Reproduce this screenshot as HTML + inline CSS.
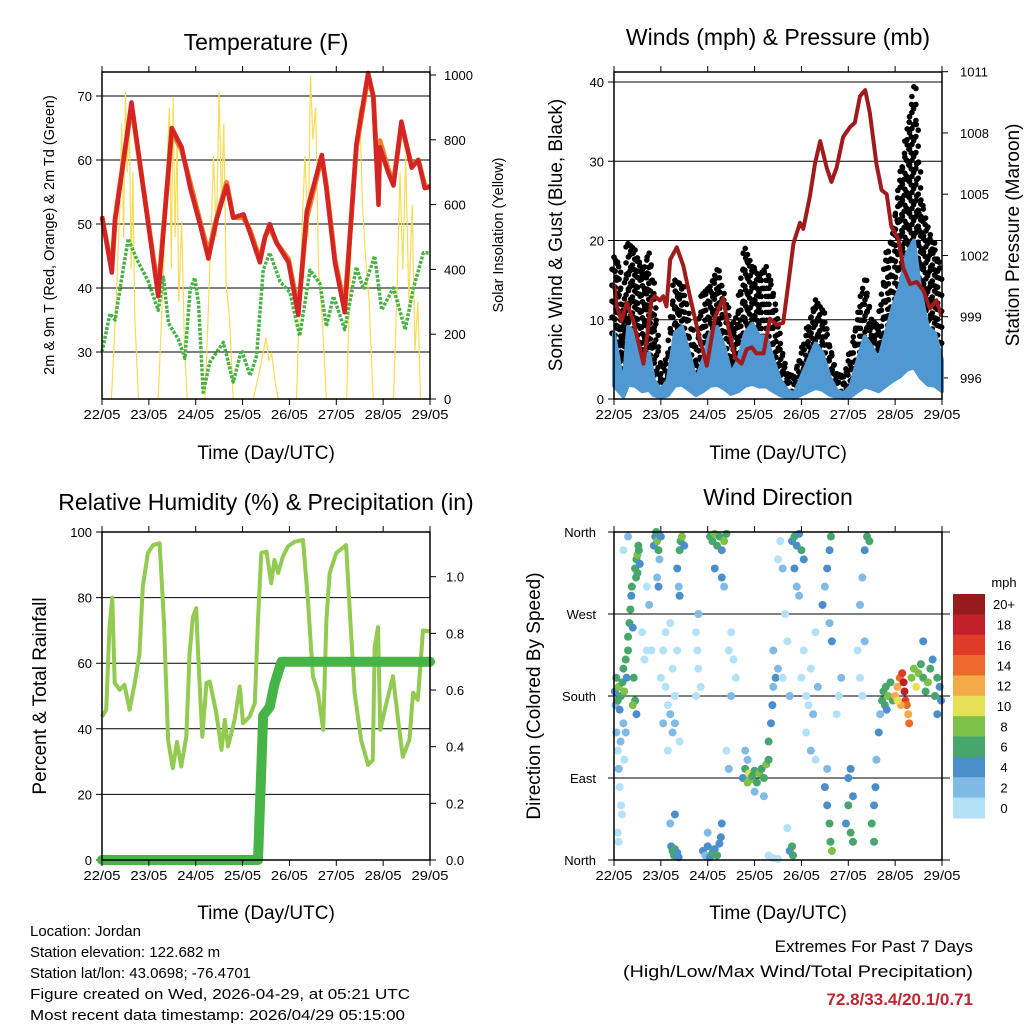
<!DOCTYPE html>
<html><head><meta charset="utf-8"><title>Weather station charts</title>
<style>
html,body{margin:0;padding:0;background:#fff;}
svg{display:block;font-family:"Liberation Sans",Arial,sans-serif;}
</style></head>
<body>
<svg id="fig" width="1024" height="1024" viewBox="0 0 1024 1024" xmlns="http://www.w3.org/2000/svg">
<rect width="1024" height="1024" fill="#fff"/>
</svg>
<script>
// ---------------- DATA ----------------
const dayLabels = ["22/05","23/05","24/05","25/05","26/05","27/05","28/05","29/05"];
// Temperature panel
const tempTickVals = [30,40,50,60,70];
const solarTickVals = [0,200,400,600,800,1000];
const t2T = [0,0.21,0.28,0.31,0.63,1.2,1.49,1.7,1.88,2.09,2.27,2.45,2.66,2.8,3.02,3.16,3.37,3.48,3.58,3.73,3.98,4.19,4.37,4.69,4.79,4.97,5.18,5.43,5.68,5.79,5.9,5.93,6.11,6.22,6.39,6.61,6.75,6.89,7];
const t2V = [51.2,42.4,51,52,69,38.7,65,62,55.7,50,44.6,50.8,56,51,51.5,48.6,44,48,50,47,44,35.8,52,60.8,55.5,44,36.2,62.5,73.6,70,53,62,58,56,66,58.8,60,55.6,55.8];
const t9V = [51,43,50.5,52.5,68.5,39.5,64.5,61.5,56.5,50.5,45.5,51,56.5,51,51,49,44.5,48,49.5,47,44.5,36.5,51,60.5,56,44.5,37,62,73,70,55,63,58.5,56.5,65.5,59,60,56,55.8];
const tdT = [0,0.17,0.28,0.42,0.56,0.74,0.99,1.2,1.31,1.42,1.63,1.77,1.88,1.98,2.06,2.16,2.3,2.59,2.8,2.98,3.16,3.3,3.44,3.58,3.8,4.01,4.22,4.44,4.65,4.79,4.94,5.18,5.43,5.58,5.82,5.97,6.22,6.47,6.64,6.86,7];
const tdV = [30,36,35,41.5,47.7,44.5,41,36.5,41.7,34.5,32,29,39.7,41.6,37.6,23.7,28.4,31.5,25.3,30.3,26.3,29.4,42.8,45.5,41,39.3,32.5,42.8,40.7,34,38.7,33.5,43.3,39.8,45,36.6,40,33.5,39.8,45.5,45.5];
const solarT = [0.2,0.3,0.38,0.42,0.46,0.5,0.54,0.58,0.62,0.66,0.7,0.78, 1.2,1.3,1.38,1.44,1.48,1.52,1.56,1.6,1.64,1.7,1.76,1.82, 2.2,2.3,2.38,2.44,2.5,2.55,2.6,2.65,2.72,2.8, 3.23,3.35,3.42,3.5,3.56,3.62,3.7,3.76, 4.15,4.25,4.33,4.4,4.45,4.5,4.56,4.62,4.7,4.79, 5.22,5.3,5.38,5.45,5.5,5.56,5.62,5.7,5.79, 6.22,6.3,6.36,6.42,6.48,6.55,6.62,6.68,6.74,6.8];
const solarV = [0,300,600,850,500,950,700,900,400,700,250,0, 0,350,700,900,400,930,500,800,300,550,150,0, 0,400,750,500,950,600,850,350,250,0, 0,80,130,190,120,140,50,0, 0,450,750,500,1000,800,900,400,250,0, 0,400,750,850,900,600,450,300,0, 0,350,700,400,750,300,600,150,300,0];
// Wind panel
const windTickVals = [0,10,20,30,40];
const presTickVals = [996,999,1002,1005,1008,1011];
const windT = [0,.1,.2,.3,.45,.6,.75,.85,1.0,1.15,1.3,1.45,1.6,1.75,1.9,2.05,2.2,2.35,2.5,2.65,2.8,2.95,3.1,3.25,3.4,3.55,3.7,3.85,4.0,4.15,4.3,4.45,4.6,4.75,4.9,5.05,5.2,5.35,5.5,5.65,5.8,5.95,6.1,6.25,6.4,6.55,6.7,6.85,7.0];
const windV = [8.3,4.9,1.6,9.1,8.3,4.9,5.8,2.4,1.1,2.4,8.3,9.1,5.8,2.4,4.9,8.3,9.1,6.6,3.2,4.9,8.3,9.5,7.9,7.9,4.9,2.4,1.1,0.7,2.8,4.9,7.0,5.8,2.8,1.1,0.7,1.6,4.9,7.9,6.6,4.9,8.3,11.6,14.2,18.4,20,13.3,9.1,8.3,4.9];
const gustV = [17.9,16.7,8,19.6,18.8,15.8,18.4,13.3,3.2,5.8,15,14.2,10.8,4.9,13.3,14.2,16.3,13.3,9.1,10.8,19,16.7,15.4,16.7,13.3,7,3.2,2.8,5.8,9.1,12.5,11.2,6.6,3.2,2.8,5.8,10,15,10,9.1,17.5,20.9,27.6,32.7,39.4,25.1,21.7,18.8,15.4];
const presT = [0,0.06,0.16,0.27,0.41,0.63,0.8,0.87,0.98,1.05,1.12,1.2,1.34,1.48,1.62,1.8,1.98,2.16,2.33,2.44,2.58,2.72,2.83,2.94,3.04,3.19,3.33,3.47,3.61,3.72,3.83,3.97,4.04,4.18,4.29,4.4,4.54,4.64,4.75,4.89,5.04,5.14,5.25,5.36,5.46,5.6,5.71,5.82,5.92,6.07,6.17,6.32,6.46,6.6,6.74,6.88,6.99];
const presV = [1000.6,999.5,998.8,999.7,998.8,996.7,999.8,1000,999.8,1000,999.5,1001.8,1002.4,1001.5,1000,998.2,996.6,999,999.9,998.5,997,996.7,997.4,997.5,997.2,997.2,998.9,998.6,998.7,1000.6,1002.6,1003.6,1003.3,1004.9,1006.5,1007.6,1006.3,1005.6,1006.3,1007.8,1008.3,1008.5,1009.8,1010.1,1009,1006.5,1005.2,1005,1003.4,1002.8,1001.4,1000.6,1000.7,1000.3,999.4,999.8,999];
// Humidity panel
const rhTickVals = [0,20,40,60,80,100];
const precipTickVals = [0,0.2,0.4,0.6,0.8,1.0];
const rhT = [0,.09,.16,.22,.27,.38,.48,.59,.7,.8,.87,.98,1.09,1.23,1.32,1.41,1.51,1.6,1.69,1.8,1.87,1.94,2.01,2.05,2.14,2.23,2.3,2.44,2.55,2.62,2.69,2.83,2.94,3.01,3.15,3.26,3.33,3.4,3.51,3.61,3.68,3.76,3.86,3.97,4.11,4.29,4.4,4.5,4.61,4.72,4.79,4.86,5.0,5.21,5.28,5.39,5.53,5.68,5.78,5.82,5.89,5.94,6.07,6.21,6.32,6.42,6.56,6.64,6.74,6.85,6.99];
const rhV = [43.7,45.8,71,80,54,51.9,53.4,45.8,54,63,83.4,93.6,96,96.6,73,36.6,28,36,28.5,37.6,63,74,76.8,63,37.6,54,54.4,44.8,33.6,42.7,34.6,42.7,52.9,41.7,43.7,47.8,73.2,93.6,94,84.4,91.5,87.5,92.6,95.6,97,97.6,78,56,50.9,39.7,73.2,87.5,93.6,96,78,51,36.6,29,30.5,65,71,39.7,47.8,56,42.7,31.5,36.6,51,48.8,70,69.7];
const precipT = [0,3.33,3.44,3.58,3.68,3.83,7];
const precipV = [0,0,0.51,0.54,0.62,0.7,0.7];
// Wind direction panel (cluster arrays: [day, degrees, mph])
const dirLabels = ["North","East","South","West","North"];
const speedBins = ["0","2","4","6","8","10","12","14","16","18","20+"];
const speedColors = ["#b3e2f7","#7fbbe5","#4a8fca","#47a66b","#7dc04a","#e5e154","#f5aa48","#ee6a2c","#df3b2a","#c0202a","#971a1c"];
const dirDay1 = [[0.02,185,4],[0.03,170,3],[0.05,200,6],[0.08,175,7],[0.1,190,8],[0.12,165,5],[0.15,180,6],[0.18,195,7],[0.2,210,7],[0.22,185,8],[0.25,220,6],[0.27,200,5],[0.3,230,7],[0.05,140,2],[0.08,120,1],[0.1,100,2],[0.12,80,1],[0.14,130,2],[0.15,60,1],[0.17,50,0],[0.2,150,2],[0.22,110,1],[0.25,140,2],[0.08,30,1],[0.1,20,0],[0.3,245,7],[0.33,260,6],[0.35,275,6],[0.37,290,5],[0.38,300,7],[0.4,255,4],[0.42,200,6],[0.45,175,6],[0.48,160,5],[0.4,170,8],[0.45,320,6],[0.48,330,7],[0.5,335,8],[0.52,345,6],[0.5,315,6],[0.55,325,5],[0.47,310,6],[0.53,340,7],[0.3,355,2],[0.2,340,1],[0.85,345,4],[0.88,355,5],[0.9,360,7],[0.92,350,8],[0.95,340,6],[0.97,330,3],[1.0,355,5],[0.95,300,4],[0.92,310,3],[0.7,300,1],[0.75,280,2],[0.6,250,1],[0.65,220,0],[0.7,230,1],[0.8,230,0]];
const dirDay2 = [[1.0,200,1],[1.05,230,1],[1.1,190,0],[1.15,170,1],[1.2,160,2],[1.25,210,1],[1.3,180,0],[1.1,250,1],[1.2,260,1],[1.3,150,2],[1.35,230,0],[1.4,130,1],[1.05,150,2],[1.15,120,1],[1.25,140,2],[1.22,15,4],[1.25,10,7],[1.28,5,6],[1.3,12,6],[1.35,8,4],[1.38,3,5],[1.2,40,3],[1.3,50,4],[1.35,320,4],[1.4,340,6],[1.42,350,7],[1.45,355,8],[1.5,345,5],[1.38,300,3],[1.4,290,4],[1.75,250,1],[1.78,230,0],[1.8,210,1],[1.85,190,0],[1.8,270,2],[1.75,180,1]];
const dirDay3 = [[1.9,10,4],[1.95,5,3],[2.0,15,4],[2.05,3,5],[2.1,8,6],[2.15,12,4],[2.2,5,7],[2.25,18,5],[2.0,30,3],[2.3,40,4],[2.28,25,5],[2.05,355,6],[2.1,350,7],[2.15,358,8],[2.2,345,6],[2.25,355,7],[2.3,340,5],[2.35,350,8],[2.4,358,6],[2.15,320,5],[2.3,310,4],[2.35,300,3],[2.5,250,1],[2.55,220,0],[2.6,200,1],[2.5,180,2],[2.45,230,0],[2.4,120,1],[2.45,100,2]];
const dirDay4 = [[2.75,90,5],[2.8,100,6],[2.85,85,8],[2.88,95,10],[2.9,88,9],[2.95,92,7],[3.0,98,6],[3.05,85,7],[3.1,95,8],[3.15,100,6],[3.2,90,7],[3.25,105,8],[3.3,110,6],[2.8,120,3],[2.85,110,2],[3.0,75,2],[3.2,70,2],[3.3,130,7],[3.35,150,4],[3.38,170,4],[3.4,190,3],[3.45,200,5],[3.5,210,3],[3.4,230,2],[3.5,330,0],[3.55,350,1],[3.6,320,2],[3.65,270,1],[3.7,240,0],[3.6,200,1],[3.75,180,2],[3.3,5,1],[3.4,2,0],[3.5,1,1]];
const dirDay5 = [[3.75,10,4],[3.8,15,6],[3.82,5,7],[3.7,35,1],[3.8,350,4],[3.85,355,6],[3.9,345,5],[3.95,358,4],[4.0,340,6],[3.85,320,4],[3.9,300,3],[3.95,290,2],[4.05,330,4],[4.0,200,1],[4.05,230,0],[4.1,180,1],[4.15,170,0],[4.2,210,1],[4.25,160,2],[4.3,250,1],[4.1,140,1],[4.2,120,2],[4.3,110,0],[4.35,190,2],[4.45,280,4],[4.5,300,3],[4.55,320,4],[4.6,340,5],[4.63,355,7],[4.6,260,3],[4.65,240,4],[4.5,80,4],[4.55,60,5],[4.6,40,6],[4.62,20,7],[4.65,10,8],[4.55,100,3],[4.8,180,1],[4.85,200,2],[4.75,160,0]];
const dirDay6 = [[4.95,40,5],[5.0,60,6],[5.05,30,6],[5.1,70,4],[5.0,90,5],[5.05,100,4],[5.1,20,7],[5.2,230,1],[5.25,200,0],[5.3,180,1],[5.35,240,2],[5.25,280,2],[5.3,310,3],[5.35,340,4],[5.4,355,6],[5.45,350,7],[5.5,40,6],[5.55,60,5],[5.58,80,4],[5.6,110,3],[5.65,140,4],[5.68,160,3],[5.55,20,7]];
const dirDay7 = [[5.72,175,6],[5.75,185,7],[5.78,170,6],[5.8,190,7],[5.85,180,8],[5.9,195,6],[5.82,165,5],[5.95,175,7],[6.0,180,12],[6.05,190,13],[6.1,200,15],[6.15,205,17],[6.18,195,19],[6.2,185,18],[6.22,175,16],[6.25,170,14],[6.28,160,13],[6.3,150,14],[6.12,170,12],[6.05,175,11],[6.35,200,8],[6.4,210,9],[6.45,190,10],[6.5,205,8],[6.55,215,7],[6.6,200,6],[6.65,185,7],[6.7,195,8],[6.75,210,6],[6.8,220,5],[6.85,180,7],[6.9,200,6],[6.95,190,5],[6.98,175,4],[6.6,240,4],[6.9,160,5]];

// ---------------- HELPERS ----------------
const NS = "http://www.w3.org/2000/svg";
const svg = document.getElementById("fig");
function mk(tag, attrs, parent){
  const e = document.createElementNS(NS, tag);
  for (const k in attrs) e.setAttribute(k, attrs[k]);
  (parent||svg).appendChild(e);
  return e;
}
function txt(s, x, y, size, anchor, parent, extra){
  const e = mk("text", Object.assign({x:x, y:y, "font-size":size, "text-anchor":anchor||"middle", fill:"#000"}, extra||{}), parent);
  e.textContent = s;
  return e;
}
function lin(d0, d1, r0, r1){ return v => r0 + (v - d0) * (r1 - r0) / (d1 - d0); }
function pathFrom(xs, ys){ return xs.map((x,i)=>(i?"L":"M")+x.toFixed(1)+","+ys[i].toFixed(1)).join(""); }

function frame(g, x0, x1, y0, y1, xs, name){
  dayLabels.forEach((lab, i) => {
    const x = xs(i);
    mk("line",{x1:x,y1:y1,x2:x,y2:y1+6,stroke:"#000","stroke-width":1},g);
    mk("line",{x1:x,y1:y0,x2:x,y2:y0-6,stroke:"#000","stroke-width":1},g);
    const t = txt(lab, x, y1+20, 13, "middle", g, {textLength:37, lengthAdjust:"spacingAndGlyphs"});
    
    
  });
  const r = mk("rect",{x:x0,y:y0,width:x1-x0,height:y1-y0,fill:"none",stroke:"#000","stroke-width":1.5},g);
  
  
}

// ================= PANEL 1: TEMPERATURE =================
(function(){
  const g = mk("g",{});
  
  
  const X0=102, X1=430, Y0=72, Y1=399;
  const xs = lin(0,7,X0,X1);
  const ys = lin(30,70,352,96);
  const ysol = lin(0,1000,399,75);
  tempTickVals.forEach(v=>{
    const l = mk("line",{x1:X0-6,y1:ys(v),x2:X1,y2:ys(v),stroke:"#000","stroke-width":1},g);
    
    
    const t = txt(String(v), X0-10, ys(v)+5, 13, "end", g);
    
    
  });
  solarTickVals.forEach(v=>{
    mk("line",{x1:X1,y1:ysol(v),x2:X1+6,y2:ysol(v),stroke:"#000"},g);
    const t = txt(String(v), X1+14, ysol(v)+5, 13, "start", g);
    
    
  });
  const sol = mk("path",{d:pathFrom(solarT.map(xs), solarV.map(ysol)),fill:"none",stroke:"#f7dc55","stroke-width":1.2},g);
  
  
  const td = mk("path",{d:pathFrom(tdT.map(xs), tdV.map(ys)),fill:"none",stroke:"#48b244","stroke-width":3.5,"stroke-dasharray":"3 1.5","stroke-linejoin":"round"},g);
  
  
  const t9 = mk("path",{d:pathFrom(t2T.map(xs), t9V.map(ys)),fill:"none",stroke:"#f07f2a","stroke-width":5,"stroke-linejoin":"round"},g);
  
  
  const t2 = mk("path",{d:pathFrom(t2T.map(xs), t2V.map(ys)),fill:"none",stroke:"#d42424","stroke-width":4.5,"stroke-linejoin":"round"},g);
  
  
  frame(g,X0,X1,Y0,Y1,xs,"temperature");
  const tt = txt("Temperature (F)", 266, 50, 23, "middle", g);
  
  
  const xl = txt("Time (Day/UTC)", 266, 459, 19, "middle", g);
  
  
  const yl = txt("2m & 9m T (Red, Orange) & 2m Td (Green)", 0, 0, 14.5, "middle", g, {transform:"translate(54,235) rotate(-90)"});
  
  
  const yr = txt("Solar Insolation (Yellow)", 0, 0, 14.5, "middle", g, {transform:"translate(503,235) rotate(-90)"});
  
  
})();

// ================= PANEL 2: WINDS & PRESSURE =================
(function(){
  const g = mk("g",{});
  
  
  const X0=614, X1=942, Y0=72, Y1=399;
  const xs = lin(0,7,X0,X1);
  const ys = lin(0,40,399,82);
  const yp = lin(999,1011,316.7,71.7);
  windTickVals.forEach(v=>{
    const l = mk("line",{x1:X0-6,y1:ys(v),x2:X1,y2:ys(v),stroke:"#000","stroke-width":1},g);
    
    
    const t = txt(String(v), X0-10, ys(v)+5, 13, "end", g);
    
    
  });
  presTickVals.forEach(v=>{
    mk("line",{x1:X1,y1:yp(v),x2:X1+6,y2:yp(v),stroke:"#000"},g);
    const t = txt(String(v), X1+18, yp(v)+5, 13, "start", g);
    
    
  });
  // gust dots: sparse columns between wind and gust values
  const dots = mk("g",{},g);
  
  
  for (let i=0;i<windT.length-1;i++){
    for (let k=0;k<3;k++){
      const f = k/3;
      const t = windT[i] + f*(windT[i+1]-windT[i]);
      const w = windV[i] + f*(windV[i+1]-windV[i]);
      const gu = gustV[i] + f*(gustV[i+1]-gustV[i]);
      const x = xs(t);
      const ya = ys(w), yb = ys(gu);
      let j = 0;
      for (let y = ya; y >= yb - 0.1; y -= 8, j++){
        const c = mk("circle",{cx:x+((j+k)%2?2:-2),cy:y,r:2.8,fill:"#000"},dots);
        
        
      }
      const c2 = mk("circle",{cx:x,cy:yb,r:2.8,fill:"#000"},dots);
      
      
    }
  }
  // wind band
  const top = windT.map((t,i)=>[xs(t), ys(windV[i])]);
  const bot = windT.map((t,i)=>[xs(t), ys(windV[i]*0.2)]).reverse();
  const band = mk("path",{d:"M"+top.concat(bot).map(p=>p[0].toFixed(1)+","+p[1].toFixed(1)).join("L")+"Z",fill:"#4f98d2",stroke:"#4f98d2","stroke-width":4,"stroke-linejoin":"round"},g);
  
  
  const pr = mk("path",{d:pathFrom(presT.map(xs), presV.map(yp)),fill:"none",stroke:"#a01c1c","stroke-width":4,"stroke-linejoin":"round"},g);
  
  
  frame(g,X0,X1,Y0,Y1,xs,"wind");
  const tt = txt("Winds (mph) & Pressure (mb)", 778, 45, 23, "middle", g);
  
  
  const xl = txt("Time (Day/UTC)", 778, 459, 19, "middle", g);
  
  
  const yl = txt("Sonic Wind & Gust (Blue, Black)", 0, 0, 19, "middle", g, {transform:"translate(562,235) rotate(-90)"});
  
  
  const yr = txt("Station Pressure (Maroon)", 0, 0, 19, "middle", g, {transform:"translate(1019,235) rotate(-90)"});
  
  
})();

// ================= PANEL 3: HUMIDITY & PRECIP =================
(function(){
  const g = mk("g",{});
  
  
  const X0=102, X1=430, Y0=532, Y1=860;
  const xs = lin(0,7,X0,X1);
  const ys = lin(0,100,860,532);
  const yp = lin(0,1,860,576.7);
  rhTickVals.forEach(v=>{
    const l = mk("line",{x1:X0-6,y1:ys(v),x2:X1,y2:ys(v),stroke:"#000","stroke-width":1},g);
    
    
    const t = txt(String(v), X0-10, ys(v)+5, 13, "end", g);
    
    
  });
  precipTickVals.forEach(v=>{
    mk("line",{x1:X1,y1:yp(v),x2:X1+6,y2:yp(v),stroke:"#000"},g);
    const t = txt(v.toFixed(1), X1+16, yp(v)+5, 13, "start", g);
    
    
  });
  const rh = mk("path",{d:pathFrom(rhT.map(xs), rhV.map(ys)),fill:"none",stroke:"#93cb52","stroke-width":4,"stroke-linejoin":"round"},g);
  
  
  const pc = mk("path",{d:pathFrom(precipT.map(xs), precipV.map(yp)),fill:"none",stroke:"#46b446","stroke-width":10,"stroke-linejoin":"round","stroke-linecap":"round"},g);
  
  
  frame(g,X0,X1,Y0,Y1,xs,"humidity");
  const tt = txt("Relative Humidity (%) & Precipitation (in)", 266, 510, 23, "middle", g);
  
  
  const xl = txt("Time (Day/UTC)", 266, 919, 19, "middle", g);
  
  
  const yl = txt("Percent & Total Rainfall", 0, 0, 19, "middle", g, {transform:"translate(46,696) rotate(-90)"});
  
  
})();

// ================= PANEL 4: WIND DIRECTION =================
(function(){
  const g = mk("g",{});
  
  
  const X0=614, X1=942, Y0=532, Y1=860;
  const xs = lin(0,7,X0,X1);
  const ys = lin(0,360,860,532);
  dirLabels.forEach((lab,i)=>{
    const v = i*90;
    const l = mk("line",{x1:X0-6,y1:ys(v),x2:X1+8,y2:ys(v),stroke:"#000","stroke-width":1},g);
    
    
    const t = txt(lab, X0-18, ys(v)+5, 13, "end", g);
    
    
  });
  const pts = mk("g",{},g);
  
  
  [dirDay1,dirDay2,dirDay3,dirDay4,dirDay5,dirDay6,dirDay7].forEach(cl=>{
    cl.forEach(p=>{
      const bin = Math.min(10, Math.floor(p[2]/2));
      const c = mk("circle",{cx:xs(p[0]),cy:ys(p[1]),r:4,fill:speedColors[bin]},pts);
      
      
    });
  });
  frame(g,X0,X1,Y0,Y1,xs,"direction");
  const cb = mk("g",{},g);
  
  
  const cbTop=594, cbBot=818, n=speedBins.length, h=(cbBot-cbTop)/n;
  speedBins.forEach((lab,i)=>{
    const idx = n-1-i;
    const r = mk("rect",{x:953,y:cbTop+i*h,width:32,height:h+0.5,fill:speedColors[idx]},cb);
    
    
    const t = txt(speedBins[idx], 1004, cbTop+i*h+h/2+5, 13, "middle", cb);
    
    
  });
  const u = txt("mph", 1004, 587, 13, "middle", cb);
  
  
  const tt = txt("Wind Direction", 778, 505, 23, "middle", g);
  
  
  const xl = txt("Time (Day/UTC)", 778, 919, 19, "middle", g);
  
  
  const yl = txt("Direction (Colored By Speed)", 0, 0, 19, "middle", g, {transform:"translate(540,696) rotate(-90)"});
  
  
})();
</script>
<svg width="1024" height="1024" style="position:absolute;left:0;top:0;pointer-events:none" xmlns="http://www.w3.org/2000/svg" font-family="Liberation Sans, Arial, sans-serif">
  <text x="30" y="936" font-size="15">Location: Jordan</text>
  <text x="30" y="957" font-size="15">Station elevation: 122.682 m</text>
  <text x="30" y="978" font-size="15">Station lat/lon: 43.0698; -76.4701</text>
  <text x="30" y="999" font-size="15" textLength="380" lengthAdjust="spacingAndGlyphs">Figure created on Wed, 2026-04-29, at 05:21 UTC</text>
  <text x="30" y="1020" font-size="15" textLength="375" lengthAdjust="spacingAndGlyphs">Most recent data timestamp: 2026/04/29 05:15:00</text>
  <text x="973" y="952" font-size="17" text-anchor="end">Extremes For Past 7 Days</text>
  <text x="973" y="977" font-size="17" text-anchor="end" textLength="350" lengthAdjust="spacingAndGlyphs">(High/Low/Max Wind/Total Precipitation)</text>
  <text x="973" y="1005" font-size="17" font-weight="bold" fill="#c0262d" text-anchor="end">72.8/33.4/20.1/0.71</text>
</svg>
</body></html>
